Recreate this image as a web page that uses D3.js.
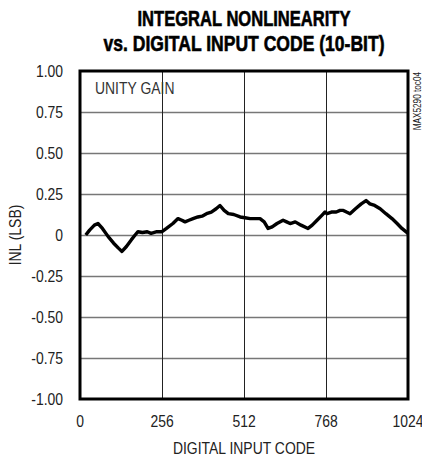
<!DOCTYPE html>
<html>
<head>
<meta charset="utf-8">
<script src="https://cdn.jsdelivr.net/npm/d3@7"></script>
<style>
  body { margin: 0; background: #fff; }
  svg { display: block; }
  .lbl { font-family: "Liberation Sans Narrow", "Arial Narrow", "Liberation Sans", sans-serif; fill: #222; }
</style>
</head>
<body>
<script>
// INL vs code
var codes = [18, 30, 45, 56, 70, 88, 105, 120, 131, 145, 160, 172, 181, 195, 210, 222, 240, 256, 270, 290, 306, 318, 328, 340, 353, 368, 381, 395, 410, 425, 437, 450, 463, 480, 500, 515, 531, 548, 562, 575, 587, 600, 615, 634, 645, 656, 672, 690, 712, 725, 740, 755, 765, 771, 785, 800, 812, 822, 832, 843, 860, 878, 893, 905, 920, 937, 955, 974, 990, 1005, 1024];
var inl   = [0.00, 0.03, 0.06, 0.07, 0.04, -0.01, -0.05, -0.08, -0.10, -0.07, -0.03, 0.00, 0.02, 0.015, 0.02, 0.01, 0.02, 0.02, 0.04, 0.07, 0.10, 0.09, 0.08, 0.09, 0.10, 0.11, 0.115, 0.13, 0.14, 0.16, 0.18, 0.15, 0.13, 0.125, 0.11, 0.105, 0.10, 0.10, 0.10, 0.08, 0.04, 0.05, 0.07, 0.09, 0.08, 0.07, 0.08, 0.06, 0.04, 0.06, 0.09, 0.12, 0.14, 0.13, 0.14, 0.14, 0.15, 0.15, 0.14, 0.13, 0.16, 0.19, 0.21, 0.19, 0.18, 0.16, 0.13, 0.10, 0.07, 0.04, 0.01];

var xTicks = [0, 256, 512, 768, 1024];
var yTicks = [-1, -0.75, -0.5, -0.25, 0, 0.25, 0.5, 0.75, 1];
var yTickText = ["-1.00", "-0.75", "-0.50", "-0.25", "0", "0.25", "0.50", "0.75", "1.00"];

(function(){
var W = 422, H = 459;
var pl = 80, pt = 71, pw = 328, ph = 328;
var sx = 0.82; // narrow the text, no condensed font here

var svg = d3.select("body").append("svg").attr("width", W).attr("height", H);

var x = d3.scaleLinear().domain([0, 1024]).range([pl, pl + pw]);
var y = d3.scaleLinear().domain([-1, 1]).range([pt + ph, pt]);

function label(px, py, str, size, anchor, rot){
  return svg.append("text")
    .attr("class", "lbl")
    .attr("transform", "translate(" + px + "," + py + ")" + (rot ? " rotate(" + rot + ")" : "") + " scale(" + sx + ",1)")
    .attr("text-anchor", anchor || "start")
    .attr("font-size", size)
    .text(str);
}

// horizontal grid
svg.append("g")
  .attr("transform", "translate(" + pl + ",0)")
  .call(d3.axisLeft(y).tickValues(yTicks.slice(1, -1)).tickSize(-pw).tickFormat(""))
  .call(function(g){
    g.select(".domain").remove();
    g.selectAll("line").attr("stroke", "#777").attr("stroke-width", 1.6);
  });

// vertical grid
svg.append("g")
  .attr("transform", "translate(0," + (pt + ph) + ")")
  .call(d3.axisBottom(x).tickValues(xTicks.slice(1, -1)).tickSize(-ph).tickFormat(""))
  .call(function(g){
    g.select(".domain").remove();
    g.selectAll("line").attr("stroke", "#222").attr("stroke-width", 1);
  });

// tick labels
yTicks.forEach(function(d, i){ label(63, y(d) + 6, yTickText[i], 17, "end"); });
xTicks.forEach(function(d){ label(x(d), 427, d, 17, "middle"); });

// curve
var line = d3.line()
  .x(function(d, i){ return x(codes[i]); })
  .y(function(d){ return y(d); });

svg.append("path")
  .datum(inl)
  .attr("d", line)
  .attr("fill", "none")
  .attr("stroke", "#000")
  .attr("stroke-width", 3.4)
  .attr("stroke-linejoin", "round");

// frame
svg.append("rect")
  .attr("x", pl).attr("y", pt)
  .attr("width", pw).attr("height", ph)
  .attr("fill", "none")
  .attr("stroke", "#000")
  .attr("stroke-width", 3);

// title
[["INTEGRAL NONLINEARITY", 26, 213], ["vs. DIGITAL INPUT CODE (10-BIT)", 51, 281]].forEach(function(t){
  svg.append("text")
    .attr("class", "lbl")
    .attr("x", 244).attr("y", t[1])
    .attr("text-anchor", "middle")
    .attr("font-size", 22).attr("font-weight", "bold")
    .style("fill", "#000").style("stroke", "#000").style("stroke-width", 0.6)
    .attr("textLength", t[2]).attr("lengthAdjust", "spacingAndGlyphs")
    .text(t[0]);
});

// axis titles and notes
label(244, 454, "DIGITAL INPUT CODE", 17, "middle");
label(21, 235, "INL (LSB)", 17, "middle", -90);
label(95, 94, "UNITY GAIN", 17).style("fill", "#333");
label(421, 72, "MAX5290 toc04", 10, "end", -90);
})();
</script>
</body>
</html>
